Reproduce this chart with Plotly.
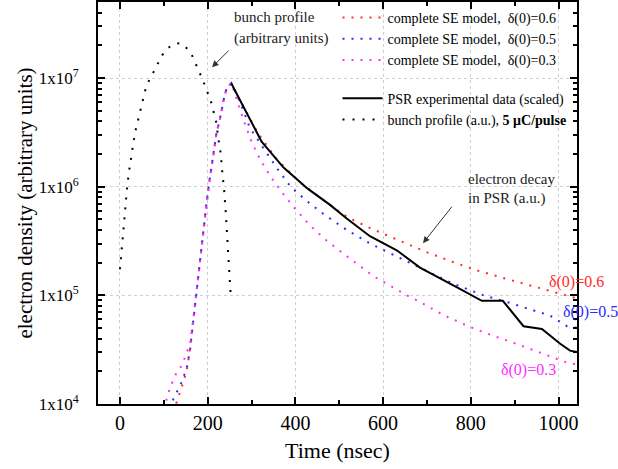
import plotly.graph_objects as go

# ---------------- data ----------------
bunch_t = [0, 2, 5, 8, 11, 14, 17, 21, 25, 29, 34, 40, 46, 52, 59, 68, 80, 95, 110, 129,
           144, 162, 177, 186, 194, 201, 208, 213, 219, 226, 230, 234, 237, 241, 243, 245,
           248, 250, 252, 253]
bunch_v = [1.74e5, 2.3e5, 2.95e5, 4.0e5, 5.6e5, 7.8e5, 1.05e6, 1.4e6, 1.85e6, 2.4e6,
           3.1e6, 3.9e6, 5.0e6, 6.5e6, 8.1e6, 9.8e6, 1.2e7, 1.6e7, 1.9e7, 2.1e7,
           2.05e7, 1.7e7, 1.26e7, 1.02e7, 8.5e6, 7.1e6, 6.0e6, 5.0e6, 4.0e6, 2.5e6,
           2.0e6, 1.26e6, 1.0e6, 6.0e5, 4.3e5, 3.2e5, 2.0e5, 1.6e5, 1.12e5, 9.3e4]

psr_t = [254, 323, 373, 428, 479, 517, 570, 631, 684, 722, 775, 825, 873, 920, 962,
         1003, 1026, 1045]
psr_v = [8.9e6, 2.6e6, 1.5e6, 9.6e5, 6.8e5, 5.1e5, 3.5e5, 2.6e5, 1.8e5, 1.5e5, 1.15e5,
         8.9e4, 8.9e4, 5.2e4, 4.9e4, 3.6e4, 3.1e4, 3.0e4]

red_t = [120, 128, 140, 152, 160, 167, 175, 182, 190, 198, 205, 213, 220, 228, 236, 243,
         254, 266, 285, 315, 357, 410, 483, 520, 574, 699, 756, 813, 886, 996, 1045]
red_v = [8.5e3, 1.0e4, 1.4e4, 2.0e4, 3.2e4, 5.8e4, 1.12e5, 2.1e5, 4.0e5, 7.4e5, 1.2e6,
         1.9e6, 3.1e6, 4.2e6, 6.2e6, 8.0e6, 9.0e6, 7.1e6, 5.2e6, 3.1e6, 1.8e6, 1.1e6,
         6.6e5, 5.2e5, 4.1e5, 2.5e5, 2.05e5, 1.7e5, 1.4e5, 1.05e5, 9.3e4]

blue_t = [115, 122, 138, 152, 160, 167, 175, 182, 190, 198, 205, 213, 220, 228, 236, 243,
          254, 274, 296, 323, 357, 389, 426, 464, 517, 570, 684, 756, 829, 886, 981,
          1019, 1045]
blue_v = [9.0e3, 1.12e4, 1.5e4, 2.1e4, 3.2e4, 5.8e4, 1.12e5, 2.1e5, 4.0e5, 7.4e5, 1.2e6,
          1.9e6, 3.1e6, 4.2e6, 6.2e6, 8.0e6, 9.0e6, 6.0e6, 3.5e6, 2.4e6, 1.5e6, 1.0e6,
          7.4e5, 5.6e5, 4.0e5, 3.0e5, 1.8e5, 1.3e5, 1.0e5, 8.6e4, 6.5e4, 5.2e4, 5.0e4]

mag_t = [98, 103, 114, 129, 141, 152, 160, 167, 175, 182, 190, 198, 205, 213, 220, 228,
         236, 243, 254, 281, 300, 319, 342, 369, 399, 433, 471, 505, 578, 654, 684, 737,
         794, 847, 886, 965, 1019, 1045]
mag_v = [9.0e3, 1.0e4, 1.4e4, 1.95e4, 2.25e4, 2.9e4, 3.6e4, 6.0e4, 1.12e5, 2.1e5, 4.0e5,
         7.4e5, 1.2e6, 1.9e6, 3.1e6, 4.2e6, 6.2e6, 8.0e6, 9.0e6, 4.2e6, 2.6e6, 1.8e6,
         1.26e6, 8.9e5, 6.3e5, 4.4e5, 3.2e5, 2.5e5, 1.5e5, 1.0e5, 8.7e4, 6.6e4, 5.2e4,
         4.3e4, 3.8e4, 2.9e4, 2.4e4, 2.3e4]

model_names = ["complete SE model,  δ(0)=0.6", "complete SE model,  δ(0)=0.5",
               "complete SE model,  δ(0)=0.3"]
psr_name = "PSR experimental data (scaled)"
bunch_name = "bunch profile (a.u.), <b>5 μC/pulse</b>"

y_tickvals = [1e4, 1e5, 1e6, 1e7]
y_ticktext = ["1x10<sup>4</sup>", "1x10<sup>5</sup>", "1x10<sup>6</sup>", "1x10<sup>7</sup>"]
x_tickvals = [0, 200, 400, 600, 800, 1000]

RED, BLUE, MAG = "#ff2b2b", "#2b2bff", "#ff2bff"
SERIF = "Liberation Serif"
DOT = "2px,7px"

fig = go.Figure()
fig.add_trace(go.Scatter(x=bunch_t, y=bunch_v, mode="lines", name=bunch_name,
                         line=dict(color="black", width=2, dash="2px,8px"),
                         legendgroup="b", legendrank=5))
for t, v, c, n, r in [(red_t, red_v, RED, model_names[0], 1),
                      (blue_t, blue_v, BLUE, model_names[1], 2),
                      (mag_t, mag_v, MAG, model_names[2], 3)]:
    fig.add_trace(go.Scatter(x=t, y=v, mode="lines", name=n,
                             line=dict(color=c, width=2, dash=DOT),
                             legendgroup="a", legendrank=r))
fig.add_trace(go.Scatter(x=psr_t, y=psr_v, mode="lines", name=psr_name,
                         line=dict(color="black", width=2),
                         legendgroup="b", legendrank=4))

axis_common = dict(showline=True, linecolor="black", linewidth=2, mirror="allticks",
                   ticks="inside", tickcolor="black", tickwidth=2, ticklen=7,
                   showgrid=True, gridcolor="#cfcfcf", griddash="dot", gridwidth=1,
                   zeroline=False, automargin=False)

fig.update_xaxes(range=[-50, 1042], tickmode="array", tickvals=x_tickvals,
                 tickfont=dict(family=SERIF, size=20, color="black"),
                 title=dict(text="Time (nsec)", font=dict(family=SERIF, size=22, color="black"),
                            standoff=10),
                 minor=dict(ticks="inside", ticklen=4, tickwidth=2, tickcolor="black",
                            dtick=100, showgrid=False),
                 **axis_common)
fig.update_yaxes(type="log", range=[4, 7.70], tickmode="array", tickvals=y_tickvals,
                 ticktext=y_ticktext, ticklabelstandoff=14,
                 tickfont=dict(family=SERIF, size=17, color="black"),
                 title=dict(text="electron density (arbitrary units)",
                            font=dict(family=SERIF, size=21, color="black"), standoff=0),
                 minor=dict(ticks="inside", ticklen=4, tickwidth=1.5, tickcolor="black",
                            dtick="D1", showgrid=False),
                 **axis_common)

ann_font = dict(family=SERIF, size=15, color="#222222")
text_notes = [
    ("bunch profile", 255, 7.56),
    ("(arbitrary units)", 255, 7.36),
    ("electron decay", 789, 6.07),
    ("in PSR (a.u.)", 789, 5.89),
]
for txt, xx, yy in text_notes:
    fig.add_annotation(x=xx, y=yy, xref="x", yref="y", text=txt, xanchor="left",
                       yanchor="middle", showarrow=False, font=ann_font)

# arrows (head at x,y; tail offset ax,ay in pixels)
fig.add_annotation(x=210, y=7.10, xref="x", yref="y", text="", showarrow=True,
                   ax=18, ay=-18, arrowhead=2, arrowsize=1.3, arrowwidth=1,
                   arrowcolor="#333333")
fig.add_annotation(x=691, y=5.48, xref="x", yref="y", text="", showarrow=True,
                   ax=30, ay=-38, arrowhead=2, arrowsize=1.3, arrowwidth=1,
                   arrowcolor="#333333")

lab_font = 16
fig.add_annotation(x=974, y=5.12, xref="x", yref="y", text="δ(0)=0.6", showarrow=False,
                   xanchor="left", font=dict(family=SERIF, size=lab_font, color=RED))
fig.add_annotation(x=1006, y=4.85, xref="x", yref="y", text="δ(0)=0.5", showarrow=False,
                   xanchor="left", font=dict(family=SERIF, size=lab_font, color=BLUE))
fig.add_annotation(x=864, y=4.31, xref="x", yref="y", text="δ(0)=0.3", showarrow=False,
                   xanchor="left", font=dict(family=SERIF, size=lab_font, color=MAG))

fig.update_layout(
    width=618, height=469,
    margin=dict(l=98, r=41, t=2, b=65),
    paper_bgcolor="white", plot_bgcolor="white",
    legend=dict(x=0.5, y=1.0, xanchor="left", yanchor="top",
                bgcolor="rgba(0,0,0,0)", borderwidth=0,
                font=dict(family=SERIF, size=14, color="black"),
                traceorder="grouped", tracegroupgap=17, itemwidth=40),
)

fig.write_html("out.html", config={"displayModeBar": False},
               post_script="document.body.style.margin='0';")
